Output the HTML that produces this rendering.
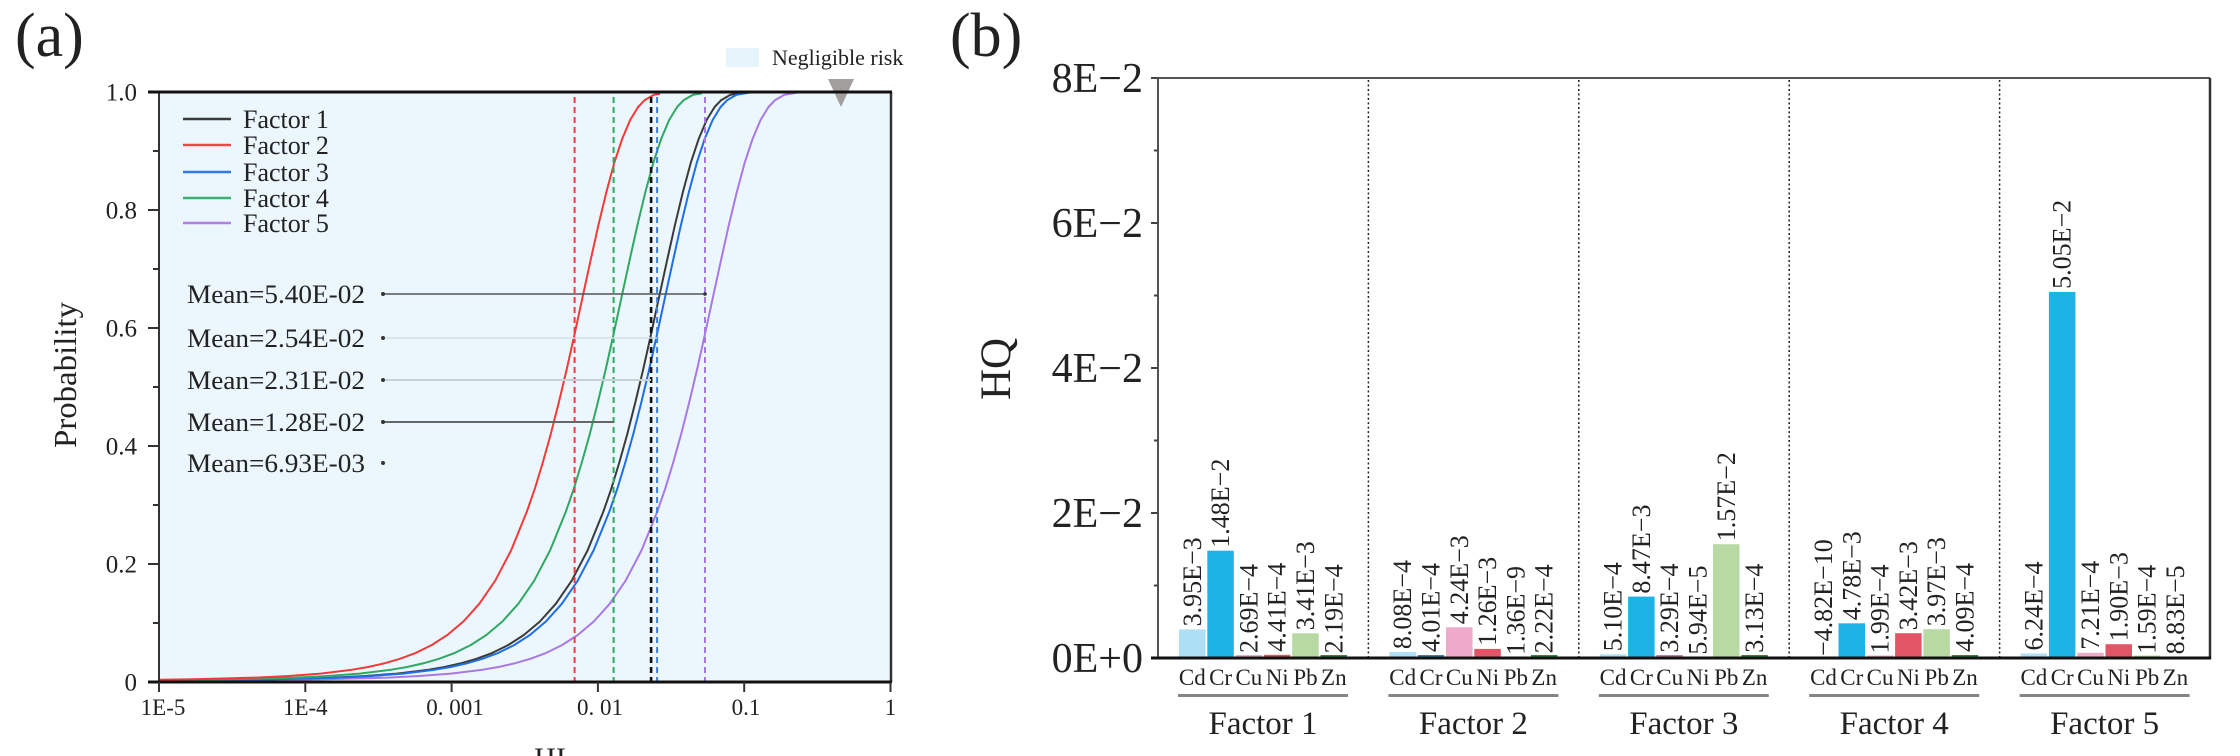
<!DOCTYPE html>
<html><head><meta charset="utf-8"><style>html,body{margin:0;padding:0;background:#fff;width:2240px;height:756px;overflow:hidden}svg{display:block}svg text{font-family:"Liberation Serif","Times New Roman",serif;fill:#222}</style></head>
<body>
<svg xmlns="http://www.w3.org/2000/svg" width="2240" height="756" viewBox="0 0 2240 756" font-family="'Liberation Serif', serif">
<defs>
<path id="cdf" d="M-552.8,680.5 L-508.3,680.4 L-444.8,680.1 L-381.2,679.3 L-317.7,677.6 L-285.9,676.0 L-254.1,673.6 L-222.4,669.7 L-206.5,667.0 L-190.6,663.4 L-174.7,658.8 L-158.8,652.9 L-143.0,645.1 L-127.1,634.9 L-111.2,621.5 L-95.3,603.8 L-79.4,580.7 L-63.5,550.4 L-47.7,511.5 L-39.7,488.4 L-31.8,462.5 L-23.8,434.0 L-15.9,402.9 L-7.9,369.4 L0,334.0 L7.9,297.4 L15.9,260.7 L23.8,225.2 L31.8,192.0 L39.7,162.7 L47.7,138.6 L55.6,119.9 L63.5,107.0 L69.9,100.3 L79.4,94.8 L95.3,92.2 L114.4,92 L260,92" fill="none"/>
<clipPath id="cR"><rect x="159" y="80" width="501" height="610"/></clipPath>
<clipPath id="cG"><rect x="159" y="80" width="543" height="610"/></clipPath>
<clipPath id="cK"><rect x="159" y="80" width="603" height="610"/></clipPath>
<clipPath id="cB"><rect x="159" y="80" width="609" height="610"/></clipPath>
<clipPath id="cP"><rect x="159" y="80" width="649" height="610"/></clipPath>
</defs>

<!-- ============ Panel (a) ============ -->
<text x="15" y="56" font-size="62">(a)</text>
<rect x="159" y="92" width="732" height="590" fill="#ecf7fd"/>

<!-- negligible risk legend -->
<rect x="726" y="48" width="33" height="19" fill="#e6f4fb"/>
<text x="772" y="65" font-size="22" fill="#444">Negligible risk</text>

<!-- curves -->
<g stroke-width="2" stroke-linejoin="round" fill="none">
<g clip-path="url(#cP)"><use href="#cdf" transform="translate(705,0)" stroke="#a878e6"/></g>
<g clip-path="url(#cK)"><use href="#cdf" transform="translate(651.1,0)" stroke="#3a3a3a"/></g>
<g clip-path="url(#cB)"><use href="#cdf" transform="translate(657.1,0)" stroke="#1f6ee6"/></g>
<g clip-path="url(#cG)"><use href="#cdf" transform="translate(613.6,0)" stroke="#2ea862"/></g>
<g clip-path="url(#cR)"><use href="#cdf" transform="translate(574.6,0)" stroke="#f03a3a"/></g>
</g>

<!-- dashed mean lines -->
<g stroke-width="2" stroke-dasharray="6,4" fill="none">
<line x1="574.6" y1="97" x2="574.6" y2="681" stroke="#f03a3a"/>
<line x1="613.6" y1="97" x2="613.6" y2="681" stroke="#2ea862"/>
<line x1="651.1" y1="97" x2="651.1" y2="681" stroke="#111" stroke-width="2.6"/>
<line x1="657.1" y1="97" x2="657.1" y2="681" stroke="#3a80e6"/>
<line x1="705" y1="97" x2="705" y2="681" stroke="#a878e6"/>
</g>

<!-- mean label lines -->
<line x1="383" y1="294" x2="705" y2="294" stroke="#555" stroke-width="1.6"/>
<line x1="383" y1="338" x2="657" y2="338" stroke="#d6dfe4" stroke-width="1.5"/>
<line x1="383" y1="380" x2="651" y2="380" stroke="#c8d1d6" stroke-width="2"/>
<line x1="383" y1="422" x2="614" y2="422" stroke="#666" stroke-width="2"/>
<g fill="#333">
<circle cx="383" cy="294" r="2"/><circle cx="383" cy="338" r="2"/><circle cx="383" cy="380" r="2"/><circle cx="383" cy="422" r="2"/><circle cx="383" cy="463" r="2"/>
<circle cx="705" cy="294" r="1.8"/>
</g>
<g font-size="26" fill="#333">
<text x="187" y="303" textLength="178" lengthAdjust="spacingAndGlyphs">Mean=5.40E-02</text>
<text x="187" y="347" textLength="178" lengthAdjust="spacingAndGlyphs">Mean=2.54E-02</text>
<text x="187" y="389" textLength="178" lengthAdjust="spacingAndGlyphs">Mean=2.31E-02</text>
<text x="187" y="431" textLength="178" lengthAdjust="spacingAndGlyphs">Mean=1.28E-02</text>
<text x="187" y="472" textLength="178" lengthAdjust="spacingAndGlyphs">Mean=6.93E-03</text>
</g>

<!-- legend -->
<g stroke-width="2.5">
<line x1="183" y1="119" x2="231" y2="119" stroke="#3a3a3a"/>
<line x1="183" y1="145" x2="231" y2="145" stroke="#f04848"/>
<line x1="183" y1="172" x2="231" y2="172" stroke="#2f78e6"/>
<line x1="183" y1="198" x2="231" y2="198" stroke="#3cb070"/>
<line x1="183" y1="223" x2="231" y2="223" stroke="#b080e8"/>
</g>
<g font-size="26" fill="#333">
<text x="243" y="128">Factor 1</text>
<text x="243" y="154">Factor 2</text>
<text x="243" y="181">Factor 3</text>
<text x="243" y="207">Factor 4</text>
<text x="243" y="232">Factor 5</text>
</g>

<!-- triangle -->
<polygon points="828,79 854,79 841,107" fill="#a39e9e"/>

<!-- axes a -->
<line x1="159" y1="92" x2="159" y2="682" stroke="#333" stroke-width="2"/>
<line x1="891" y1="92" x2="891" y2="682" stroke="#333" stroke-width="2.5"/>
<line x1="148" y1="92" x2="892" y2="92" stroke="#111" stroke-width="3"/>
<line x1="148" y1="682" x2="892" y2="682" stroke="#111" stroke-width="3"/>
<g stroke="#333" stroke-width="2">
<line x1="148" y1="564" x2="159" y2="564"/><line x1="148" y1="446" x2="159" y2="446"/><line x1="148" y1="328" x2="159" y2="328"/><line x1="148" y1="210" x2="159" y2="210"/>
<line x1="153" y1="623" x2="159" y2="623"/><line x1="153" y1="505" x2="159" y2="505"/><line x1="153" y1="387" x2="159" y2="387"/><line x1="153" y1="269" x2="159" y2="269"/><line x1="153" y1="151" x2="159" y2="151"/>
<line x1="159" y1="682" x2="159" y2="692"/><line x1="305.3" y1="682" x2="305.3" y2="692"/><line x1="451.6" y1="682" x2="451.6" y2="692"/><line x1="597.9" y1="682" x2="597.9" y2="692"/><line x1="744.2" y1="682" x2="744.2" y2="692"/><line x1="890.5" y1="682" x2="890.5" y2="692"/>
</g>
<g font-size="25" text-anchor="end" fill="#333">
<text x="137" y="690.5">0</text>
<text x="137" y="572.5">0.2</text>
<text x="137" y="454.5">0.4</text>
<text x="137" y="336.5">0.6</text>
<text x="137" y="218.5">0.8</text>
<text x="137" y="100.5">1.0</text>
</g>
<g font-size="23" text-anchor="middle" fill="#333">
<text x="163" y="715">1E-5</text>
<text x="305.3" y="715">1E-4</text>
<text x="455" y="715">0. 001</text>
<text x="600" y="715">0. 01</text>
<text x="746" y="715">0.1</text>
<text x="890.5" y="715">1</text>
</g>
<text x="550" y="768" font-size="30" text-anchor="middle" fill="#333">HI</text>
<text transform="translate(76,375) rotate(-90)" font-size="32" text-anchor="middle" textLength="146" lengthAdjust="spacingAndGlyphs" fill="#333">Probability</text>

<!-- ============ Panel (b) ============ -->
<text x="950" y="56" font-size="62">(b)</text>

<!-- separators -->
<g stroke="#222" stroke-width="1.5" stroke-dasharray="2,2.5">
<line x1="1368.4" y1="80" x2="1368.4" y2="657"/>
<line x1="1578.8" y1="80" x2="1578.8" y2="657"/>
<line x1="1789.2" y1="80" x2="1789.2" y2="657"/>
<line x1="1999.6" y1="80" x2="1999.6" y2="657"/>
</g>

<!-- bars -->
<g>
<rect x="1179" y="629.4" width="26.5" height="28.6" fill="#ade0f5"/>
<rect x="1207.3" y="550.7" width="26.5" height="107.3" fill="#1eb3e6"/>
<rect x="1235.6" y="655" width="26.5" height="3" fill="#eeaac9"/>
<rect x="1263.9" y="654.8" width="26.5" height="3.2" fill="#e15567"/>
<rect x="1292.2" y="633.3" width="26.5" height="24.7" fill="#b9d9a3"/>
<rect x="1320.5" y="655" width="26.5" height="3" fill="#1f8f40"/>

<rect x="1389.4" y="652.1" width="26.5" height="5.9" fill="#ade0f5"/>
<rect x="1417.7" y="655" width="26.5" height="3" fill="#1e8fb8"/>
<rect x="1446.0" y="627.3" width="26.5" height="30.7" fill="#eeaac9"/>
<rect x="1474.3" y="648.9" width="26.5" height="9.1" fill="#e15567"/>
<rect x="1530.9" y="655" width="26.5" height="3" fill="#1f8f40"/>

<rect x="1599.8" y="654.3" width="26.5" height="3.7" fill="#ade0f5"/>
<rect x="1628.1" y="596.6" width="26.5" height="61.4" fill="#1eb3e6"/>
<rect x="1656.4" y="655" width="26.5" height="3" fill="#c87ea0"/>
<rect x="1713.0" y="544.2" width="26.5" height="113.8" fill="#b9d9a3"/>
<rect x="1741.3" y="655" width="26.5" height="3" fill="#1f8f40"/>

<rect x="1838.5" y="623.3" width="26.5" height="34.7" fill="#1eb3e6"/>
<rect x="1866.8" y="655.5" width="26.5" height="2.5" fill="#eeaac9"/>
<rect x="1895.1" y="633.2" width="26.5" height="24.8" fill="#e15567"/>
<rect x="1923.4" y="629.2" width="26.5" height="28.8" fill="#b9d9a3"/>
<rect x="1951.7" y="655" width="26.5" height="3" fill="#1f8f40"/>

<rect x="2020.6" y="653.5" width="26.5" height="4.5" fill="#ade0f5"/>
<rect x="2048.9" y="291.9" width="26.5" height="366.1" fill="#1eb3e6"/>
<rect x="2077.2" y="652.8" width="26.5" height="5.2" fill="#eeaac9"/>
<rect x="2105.5" y="644.2" width="26.5" height="13.8" fill="#e15567"/>
<rect x="2133.8" y="655.5" width="26.5" height="2.5" fill="#b9d9a3"/>
</g>

<!-- axes b -->
<line x1="1158" y1="78" x2="2210" y2="78" stroke="#555" stroke-width="2"/>
<line x1="1158" y1="78" x2="1158" y2="658" stroke="#555" stroke-width="2"/>
<line x1="2210" y1="78" x2="2210" y2="659" stroke="#333" stroke-width="2.5"/>
<line x1="1151" y1="658" x2="2211" y2="658" stroke="#111" stroke-width="3"/>
<g stroke="#444" stroke-width="2">
<line x1="1151" y1="78" x2="1158" y2="78"/><line x1="1151" y1="223" x2="1158" y2="223"/><line x1="1151" y1="368" x2="1158" y2="368"/><line x1="1151" y1="513" x2="1158" y2="513"/>
<line x1="1154" y1="150.5" x2="1158" y2="150.5"/><line x1="1154" y1="295.5" x2="1158" y2="295.5"/><line x1="1154" y1="440.5" x2="1158" y2="440.5"/><line x1="1154" y1="585.5" x2="1158" y2="585.5"/>
</g>
<g font-size="42" text-anchor="end" fill="#111">
<text x="1143" y="92">8E−2</text>
<text x="1143" y="237">6E−2</text>
<text x="1143" y="382">4E−2</text>
<text x="1143" y="527">2E−2</text>
<text x="1143" y="672">0E+0</text>
</g>
<text transform="translate(1010,369) rotate(-90)" font-size="43" text-anchor="middle" fill="#111">HQ</text>

<!-- value labels -->
<g font-size="26" fill="#222">
<text transform="translate(1192.3,626.4) rotate(-90)" y="8.5">3.95E−3</text>
<text transform="translate(1220.6,547.7) rotate(-90)" y="8.5">1.48E−2</text>
<text transform="translate(1248.9,653) rotate(-90)" y="8.5">2.69E−4</text>
<text transform="translate(1277.2,651.8) rotate(-90)" y="8.5">4.41E−4</text>
<text transform="translate(1305.5,630.3) rotate(-90)" y="8.5">3.41E−3</text>
<text transform="translate(1333.8,653.4) rotate(-90)" y="8.5">2.19E−4</text>

<text transform="translate(1402.7,649.1) rotate(-90)" y="8.5">8.08E−4</text>
<text transform="translate(1431,652.1) rotate(-90)" y="8.5">4.01E−4</text>
<text transform="translate(1459.3,624.3) rotate(-90)" y="8.5">4.24E−3</text>
<text transform="translate(1487.6,645.9) rotate(-90)" y="8.5">1.26E−3</text>
<text transform="translate(1515.9,655) rotate(-90)" y="8.5">1.36E−9</text>
<text transform="translate(1544.2,653.4) rotate(-90)" y="8.5">2.22E−4</text>

<text transform="translate(1613.1,651.3) rotate(-90)" y="8.5">5.10E−4</text>
<text transform="translate(1641.4,593.6) rotate(-90)" y="8.5">8.47E−3</text>
<text transform="translate(1669.7,652.6) rotate(-90)" y="8.5">3.29E−4</text>
<text transform="translate(1698,654.6) rotate(-90)" y="8.5">5.94E−5</text>
<text transform="translate(1726.3,541.2) rotate(-90)" y="8.5">1.57E−2</text>
<text transform="translate(1754.6,652.7) rotate(-90)" y="8.5">3.13E−4</text>

<text transform="translate(1823.5,656) rotate(-90)" y="8.5">−4.82E−10</text>
<text transform="translate(1851.8,620.3) rotate(-90)" y="8.5">4.78E−3</text>
<text transform="translate(1880.1,653.6) rotate(-90)" y="8.5">1.99E−4</text>
<text transform="translate(1908.4,630.2) rotate(-90)" y="8.5">3.42E−3</text>
<text transform="translate(1936.7,626.2) rotate(-90)" y="8.5">3.97E−3</text>
<text transform="translate(1965,652) rotate(-90)" y="8.5">4.09E−4</text>

<text transform="translate(2033.9,650.5) rotate(-90)" y="8.5">6.24E−4</text>
<text transform="translate(2062.2,288.9) rotate(-90)" y="8.5">5.05E−2</text>
<text transform="translate(2090.5,649.8) rotate(-90)" y="8.5">7.21E−4</text>
<text transform="translate(2118.8,641.2) rotate(-90)" y="8.5">1.90E−3</text>
<text transform="translate(2147.1,653.9) rotate(-90)" y="8.5">1.59E−4</text>
<text transform="translate(2175.4,654.4) rotate(-90)" y="8.5">8.83E−5</text>
</g>

<!-- category labels -->
<g font-size="23" text-anchor="middle" fill="#222">
<text x="1192.3" y="685">Cd</text><text x="1220.6" y="685">Cr</text><text x="1248.9" y="685">Cu</text><text x="1277.2" y="685">Ni</text><text x="1305.5" y="685">Pb</text><text x="1333.8" y="685">Zn</text>
<text x="1402.7" y="685">Cd</text><text x="1431" y="685">Cr</text><text x="1459.3" y="685">Cu</text><text x="1487.6" y="685">Ni</text><text x="1515.9" y="685">Pb</text><text x="1544.2" y="685">Zn</text>
<text x="1613.1" y="685">Cd</text><text x="1641.4" y="685">Cr</text><text x="1669.7" y="685">Cu</text><text x="1698" y="685">Ni</text><text x="1726.3" y="685">Pb</text><text x="1754.6" y="685">Zn</text>
<text x="1823.5" y="685">Cd</text><text x="1851.8" y="685">Cr</text><text x="1880.1" y="685">Cu</text><text x="1908.4" y="685">Ni</text><text x="1936.7" y="685">Pb</text><text x="1965" y="685">Zn</text>
<text x="2033.9" y="685">Cd</text><text x="2062.2" y="685">Cr</text><text x="2090.5" y="685">Cu</text><text x="2118.8" y="685">Ni</text><text x="2147.1" y="685">Pb</text><text x="2175.4" y="685">Zn</text>
</g>
<g fill="#858585">
<rect x="1178" y="694" width="170" height="3"/>
<rect x="1388.4" y="694" width="170" height="3"/>
<rect x="1598.8" y="694" width="170" height="3"/>
<rect x="1809.2" y="694" width="170" height="3"/>
<rect x="2019.6" y="694" width="170" height="3"/>
</g>
<g font-size="33" text-anchor="middle" fill="#111">
<text x="1263" y="734">Factor 1</text>
<text x="1473.4" y="734">Factor 2</text>
<text x="1683.8" y="734">Factor 3</text>
<text x="1894.2" y="734">Factor 4</text>
<text x="2104.6" y="734">Factor 5</text>
</g>
</svg>
</body></html>
